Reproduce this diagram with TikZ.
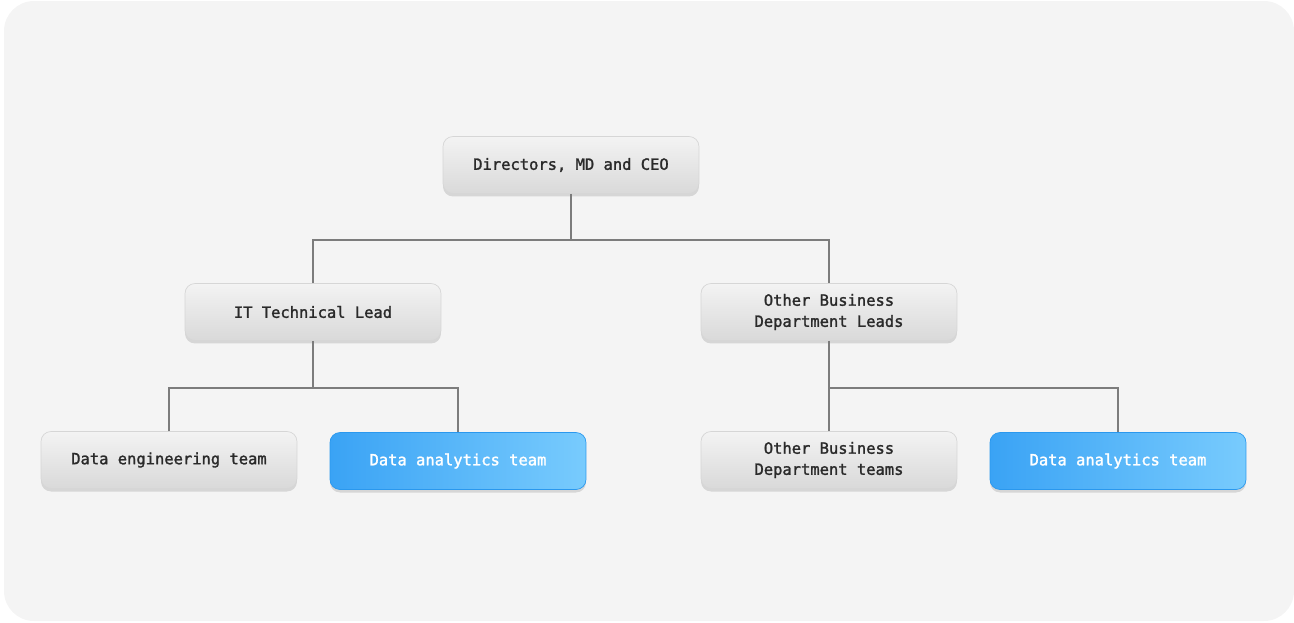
\documentclass[tikz,border=0pt]{standalone}
\usepackage{fontspec}
\newfontfamily\orgfont[BoldFont={DejaVu Sans Mono}, BoldFeatures={FakeBold=1.6}]{DejaVu Sans Mono}
\usetikzlibrary{shadows}
\definecolor{pagebg}{HTML}{F4F4F4}
\definecolor{boxtop}{HTML}{F3F3F3}
\definecolor{boxbot}{HTML}{D9D9D9}
\definecolor{boxline}{HTML}{D6D6D6}
\definecolor{bluel}{HTML}{3AA3F5}
\definecolor{bluer}{HTML}{78CBFD}
\definecolor{blueline}{HTML}{2A98EE}
\definecolor{inkgray}{HTML}{2A2A2A}
\definecolor{linkgray}{HTML}{7C7C7C}
\tikzset{
  orgbox/.style={rounded corners=0.2cm, minimum width=5.12cm, minimum height=1.14cm,
    align=center, inner sep=2pt,
    font=\orgfont\bfseries\fontsize{8.8}{12}\selectfont,
    drop shadow={shadow xshift=0pt, shadow yshift=-0.06cm, opacity=0.12, fill=black}},
  graybox/.style={orgbox, draw=boxline, top color=boxtop, bottom color=boxbot, text=inkgray},
  bluebox/.style={orgbox, draw=blueline, left color=bluel, right color=bluer, text=white},
  link/.style={draw=linkgray, line width=0.6pt}
}
\begin{document}
\begin{tikzpicture}[x=0.02cm, y=-0.02cm]
  \useasboundingbox (0,0) rectangle (1294,622);
  \fill[pagebg, rounded corners=0.6cm] (4,1) rectangle (1294,621);

  % junctions of the tree
  \coordinate (j1) at (571,240);
  \coordinate (j2) at (313,388);
  \coordinate (j3) at (829,388);

  \node[graybox] (ceo) at (571,165) {Directors, MD and CEO};
  \node[graybox] (itlead) at (313,312) {IT Technical Lead};
  \node[graybox] (bizlead) at (829,312) {Other Business\\Department Leads};
  \node[graybox] (engteam) at (169,460) {Data engineering team};
  \node[bluebox] (itdata) at (458,461) {Data analytics team};
  \node[graybox] (bizteams) at (829,460) {Other Business\\Department teams};
  \node[bluebox] (bizdata) at (1118,461) {Data analytics team};

  \draw[link] (ceo.south) -- (j1);
  \draw[link] (itlead.north) |- (j1) -| (bizlead.north);
  \draw[link] (itlead.south) -- (j2);
  \draw[link] (engteam.north) |- (j2) -| (itdata.north);
  \draw[link] (bizlead.south) -- (bizteams.north);
  \draw[link] (j3) -| (bizdata.north);
\end{tikzpicture}
\end{document}
